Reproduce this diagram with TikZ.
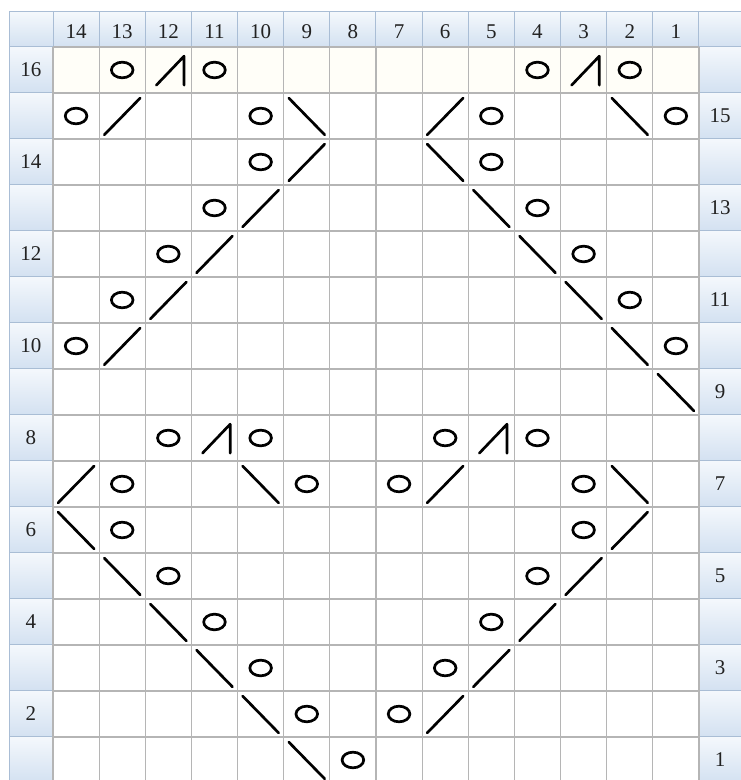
\documentclass[tikz,border=0pt]{standalone}
\usepackage{tikz}
\usepackage{fontspec}
\setmainfont{Liberation Serif}

\definecolor{hdrtop}{HTML}{F4F8FC}
\definecolor{hdrbot}{HTML}{D3E1F1}
\definecolor{hdrline}{HTML}{A9BDD5}
\definecolor{gridgray}{HTML}{B5B5B5}
\definecolor{numgray}{HTML}{222222}
\definecolor{rowtint}{HTML}{FFFEF8}

\begin{document}
\begin{tikzpicture}[
  x=46.14pt, y=-46pt,
  hdr/.style={draw=hdrline, line width=1pt, top color=hdrtop, bottom color=hdrbot},
  cellline/.style={draw=gridgray, line width=1.2pt},
  num/.style={text=numgray, font=\fontsize{21}{23}\selectfont},
  yarn/.style={line width=2.7pt},
  knit/.style={line width=2.7pt, line cap=round, line join=round}
]
\useasboundingbox (-1.1487,-1.0217) rectangle (14.911,15.935);
\fill[white] (-1.1487,-1.0217) rectangle (14.911,15.935);

% headers
\shade[hdr] (-0.9536,-0.761) rectangle (0,0);
\shade[hdr] (14,-0.761) rectangle (15,0);
\foreach \i in {0,...,13}
  \shade[hdr] (\i,-0.761) rectangle (\i+1,0);
\foreach \j in {0,...,15} {
  \shade[hdr] (-0.9536,\j) rectangle (0,\j+1);
  \shade[hdr] (14,\j) rectangle (15,\j+1);
}

% chart cells
\fill[rowtint] (0,0) rectangle (14,1);
\foreach \i in {0,...,14}
  \draw[cellline] (\i,0) -- (\i,16);
\foreach \j in {0,...,16}
  \draw[cellline] (0,\j) -- (14,\j);

% numbers
\foreach \c in {1,...,14}
  \node[num] (col\c) at (14.5-\c,-0.33) {\c};
\foreach \r in {2,4,...,16}
  \node[num] (row\r) at (-0.477,16.5-\r) {\r};
\foreach \r in {1,3,...,15}
  \node[num] (row\r) at (14.456,16.5-\r) {\r};

% yarn overs
\foreach \c/\r in {13/16,11/16,4/16,2/16,14/15,10/15,5/15,1/15,10/14,5/14,
    11/13,4/13,12/12,3/12,13/11,2/11,14/10,1/10,12/8,10/8,6/8,4/8,
    13/7,9/7,7/7,3/7,13/6,3/6,12/5,4/5,11/4,5/4,10/3,6/3,9/2,7/2,8/1}
  \draw[yarn] (14.5-\c,16.5-\r) ellipse [x radius=0.234, y radius=0.17];

% right-leaning decreases
\foreach \c/\r in {13/15,6/15,9/14,10/13,11/12,12/11,13/10,
    14/7,6/7,2/6,3/5,4/4,5/3,6/2}
  \draw[knit] (14-\c+0.11,17-\r-0.09) -- (14-\c+0.89,16-\r+0.11);

% left-leaning decreases
\foreach \c/\r in {9/15,2/15,6/14,5/13,4/12,3/11,2/10,1/9,
    10/7,2/7,14/6,13/5,12/4,11/3,10/2,9/1}
  \draw[knit] (14-\c+0.11,16-\r+0.11) -- (14-\c+0.89,17-\r-0.09);

% double decreases
\foreach \c/\r in {12/16,3/16,11/8,5/8}
  \draw[knit] (14-\c+0.24,17-\r-0.17) -- (14-\c+0.84,16-\r+0.2)
    -- (14-\c+0.84,17-\r-0.17);
\end{tikzpicture}
\end{document}
